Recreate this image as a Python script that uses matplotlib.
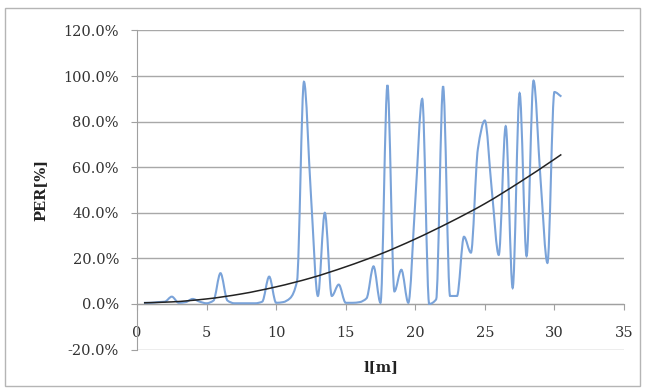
import numpy as np
import matplotlib.pyplot as plt
from matplotlib.path import Path
from matplotlib.patches import PathPatch, Rectangle
from matplotlib.ticker import PercentFormatter, MultipleLocator

length_m = [0.5, 1.0, 1.5, 2.0, 2.5, 3.0, 3.5, 4.0, 4.5, 5.0,
            5.5, 6.0, 6.5, 7.0, 7.5, 8.0, 8.5, 9.0, 9.5, 10.0,
            10.5, 11.0, 11.5, 12.0, 12.5, 13.0, 13.5, 14.0, 14.5, 15.0,
            15.5, 16.0, 16.5, 17.0, 17.5, 18.0, 18.5, 19.0, 19.5, 20.0,
            20.5, 21.0, 21.5, 22.0, 22.5, 23.0, 23.5, 24.0, 24.5, 25.0,
            25.5, 26.0, 26.5, 27.0, 27.5, 28.0, 28.5, 29.0, 29.5, 30.0,
            30.5]
per = [0.5, 0.5, 0.8, 1.0, 3.2, 0.5, 0.8, 2.2, 1.0, 0.3,
       1.5, 13.5, 1.5, 0.3, 0.3, 0.3, 0.3, 1.0, 12.0, 0.5,
       0.8, 2.5, 10.0, 97.5, 48.0, 3.5, 40.0, 3.5, 8.5, 0.5,
       0.5, 0.8, 2.5, 16.5, 0.5, 96.0, 5.5, 15.0, 0.5, 45.0,
       90.0, 0.0, 2.0, 95.5, 3.5, 3.5, 29.5, 22.5, 68.0, 80.5,
       50.0, 21.5, 78.0, 7.0, 92.5, 21.0, 98.0, 55.0, 18.0, 93.0,
       91.0]

# trend line
trend_x = [0.5, 2.5, 5.0, 7.5, 10.0, 12.5, 15.0, 17.5, 20.0, 22.5, 25.0, 27.5, 30.0, 30.5]
trend_y = [0.5, 0.9, 2.2, 4.4, 7.5, 11.4, 16.3, 21.9, 28.5, 35.9, 44.0, 53.4, 63.5, 65.6]


def smooth_path(xs, ys):
    # monotone cubic (bezier) through the points, like Excel's smoothed line
    xs = np.asarray(xs, float)
    ys = np.asarray(ys, float)
    h = np.diff(xs)
    d = np.diff(ys) / h
    m = np.zeros_like(ys)
    m[0], m[-1] = d[0], d[-1]
    for k in range(1, len(xs) - 1):
        if d[k - 1] * d[k] > 0:
            w1 = 2 * h[k] + h[k - 1]
            w2 = h[k] + 2 * h[k - 1]
            m[k] = (w1 + w2) / (w1 / d[k - 1] + w2 / d[k])
    verts = [(xs[0], ys[0])]
    codes = [Path.MOVETO]
    for k in range(len(xs) - 1):
        verts += [(xs[k] + h[k] / 3, ys[k] + m[k] * h[k] / 3),
                  (xs[k + 1] - h[k] / 3, ys[k + 1] - m[k + 1] * h[k] / 3),
                  (xs[k + 1], ys[k + 1])]
        codes += [Path.CURVE4] * 3
    return Path(verts, codes)


plt.rcParams['font.family'] = 'DejaVu Serif'
plt.rcParams['axes.unicode_minus'] = False

fig = plt.figure(figsize=(6.45, 3.9), dpi=100)
ax = fig.add_axes([0.2124, 0.1038, 0.755, 0.818])

ax.add_patch(PathPatch(smooth_path(length_m, per), fill=False,
                       edgecolor='#7aa3d9', lw=1.5, zorder=3))
ax.add_patch(PathPatch(smooth_path(trend_x, trend_y), fill=False,
                       edgecolor='#222222', lw=1.1, zorder=4))

ax.set_xlim(0, 35)
ax.set_ylim(-20, 120)
ax.xaxis.set_major_locator(MultipleLocator(5))
ax.yaxis.set_major_locator(MultipleLocator(20))
ax.yaxis.set_major_formatter(PercentFormatter(xmax=100, decimals=1))

ax.grid(axis='y', color='#a8a8a8', lw=1)
ax.set_axisbelow(True)
for s in ['top', 'right']:
    ax.spines[s].set_visible(False)
ax.spines['bottom'].set_position(('data', 0))
ax.spines['bottom'].set_color('#a0a0a0')
ax.spines['left'].set_color('#a0a0a0')
ax.tick_params(axis='x', direction='out', length=4, color='#a0a0a0',
               pad=12, labelsize=10.5, labelcolor='#333333')
ax.tick_params(axis='y', direction='out', length=4, color='#a0a0a0',
               pad=9, labelsize=10.5, labelcolor='#333333')

ax.set_xlabel('l[m]', fontsize=10.5, fontweight='bold', color='#222222')
ax.xaxis.set_label_coords(0.5, -0.055)
ax.xaxis.label.set_va('center')
ax.set_ylabel('PER[%]', fontsize=10.5, fontweight='bold', color='#222222')
ax.yaxis.set_label_coords(-0.199, 0.5)
ax.yaxis.label.set_va('center')

fig.patches.append(Rectangle((5 / 645, 4 / 390), 635 / 645, 378 / 390,
                             transform=fig.transFigure, fill=False,
                             edgecolor='#b5b5b5', lw=1))

fig.savefig('out.png', dpi=100)
